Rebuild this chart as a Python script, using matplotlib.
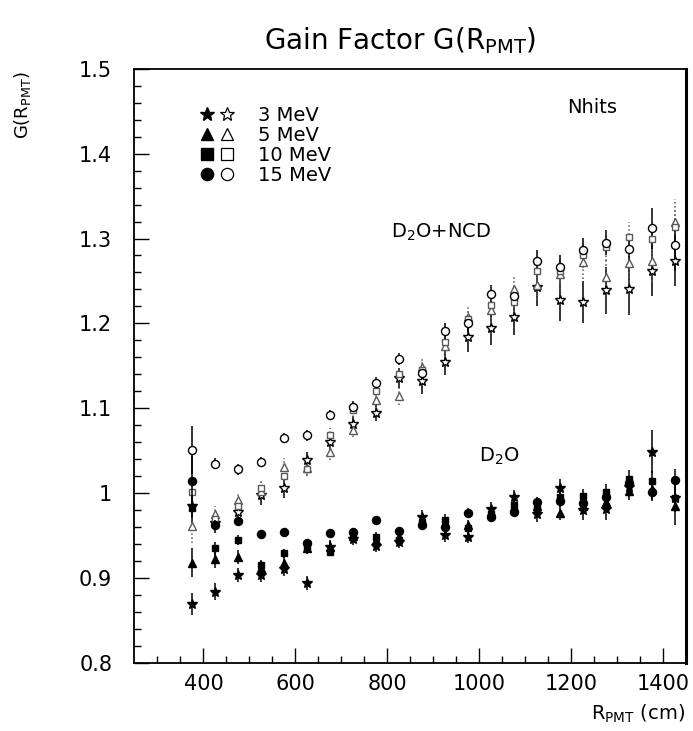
import numpy as np
from matplotlib import pyplot as plt
from matplotlib.lines import Line2D
from matplotlib.legend_handler import HandlerTuple

# PMT radius bins (cm)
r_pmt = [375, 425, 475, 525, 575, 625, 675, 725, 775, 825, 875,
         925, 975, 1025, 1075, 1125, 1175, 1225, 1275, 1325, 1375, 1425]

# D2O phase (filled markers)
d2o_3mev = [0.869, 0.884, 0.904, 0.904, 0.911, 0.894, 0.937, 0.946, 0.938, 0.942, 0.972,
            0.951, 0.949, 0.981, 0.995, 0.976, 1.006, 0.980, 0.981, 1.007, 1.049, 0.994]
d2o_3mev_err = [0.013, 0.010, 0.008, 0.008, 0.008, 0.008, 0.008, 0.007, 0.007, 0.007, 0.008,
                0.008, 0.008, 0.009, 0.009, 0.010, 0.011, 0.011, 0.012, 0.012, 0.025, 0.016]
d2o_5mev = [0.918, 0.922, 0.925, 0.912, 0.918, 0.935, 0.937, 0.950, 0.945, 0.948, 0.966,
            0.965, 0.962, 0.978, 0.984, 0.985, 0.977, 0.985, 0.990, 1.003, 1.005, 0.985]
d2o_5mev_err = [0.017, 0.010, 0.008, 0.008, 0.008, 0.007, 0.007, 0.006, 0.006, 0.006, 0.007,
                0.007, 0.007, 0.008, 0.008, 0.009, 0.009, 0.010, 0.010, 0.011, 0.013, 0.022]
d2o_10mev = [0.983, 0.935, 0.945, 0.915, 0.929, 0.937, 0.931, 0.948, 0.949, 0.945, 0.966,
             0.969, 0.959, 0.976, 0.986, 0.982, 0.996, 0.997, 1.002, 1.017, 1.014, 0.994]
d2o_10mev_err = [0.012, 0.008, 0.006, 0.006, 0.005, 0.005, 0.005, 0.005, 0.005, 0.005, 0.006,
                 0.006, 0.006, 0.006, 0.007, 0.007, 0.008, 0.008, 0.009, 0.010, 0.012, 0.014]
d2o_15mev = [1.014, 0.963, 0.967, 0.952, 0.954, 0.941, 0.953, 0.954, 0.968, 0.956, 0.962,
             0.960, 0.977, 0.972, 0.978, 0.990, 0.991, 0.988, 0.996, 1.012, 1.001, 1.016]
d2o_15mev_err = [0.030, 0.006, 0.005, 0.004, 0.004, 0.004, 0.004, 0.004, 0.004, 0.004, 0.005,
                 0.005, 0.005, 0.005, 0.006, 0.006, 0.007, 0.007, 0.008, 0.008, 0.010, 0.012]

# D2O+NCD phase (open markers)
ncd_3mev = [0.985, 0.965, 0.978, 0.998, 1.006, 1.039, 1.060, 1.081, 1.095, 1.136, 1.132,
            1.155, 1.184, 1.195, 1.208, 1.243, 1.228, 1.225, 1.239, 1.240, 1.262, 1.274]
ncd_3mev_err = [0.020, 0.012, 0.012, 0.012, 0.012, 0.010, 0.010, 0.010, 0.010, 0.012, 0.015,
                0.016, 0.018, 0.020, 0.022, 0.022, 0.025, 0.025, 0.028, 0.030, 0.030, 0.030]
ncd_5mev = [0.961, 0.975, 0.992, 1.003, 1.031, 1.030, 1.048, 1.075, 1.110, 1.114, 1.149,
            1.173, 1.208, 1.216, 1.240, 1.245, 1.258, 1.272, 1.255, 1.271, 1.273, 1.320]
ncd_5mev_err = [0.020, 0.010, 0.010, 0.010, 0.010, 0.009, 0.009, 0.009, 0.010, 0.010, 0.012,
                0.013, 0.014, 0.015, 0.016, 0.017, 0.018, 0.020, 0.020, 0.022, 0.024, 0.026]
ncd_10mev = [1.001, 0.970, 0.985, 1.006, 1.020, 1.028, 1.069, 1.098, 1.120, 1.140, 1.145,
             1.178, 1.205, 1.222, 1.225, 1.262, 1.262, 1.280, 1.290, 1.302, 1.299, 1.314]
ncd_10mev_err = [0.012, 0.008, 0.008, 0.008, 0.008, 0.008, 0.008, 0.008, 0.008, 0.009, 0.010,
                 0.010, 0.011, 0.012, 0.012, 0.013, 0.014, 0.015, 0.016, 0.017, 0.018, 0.020]
ncd_15mev = [1.051, 1.035, 1.028, 1.037, 1.065, 1.068, 1.092, 1.102, 1.130, 1.158, 1.142,
             1.191, 1.200, 1.235, 1.232, 1.274, 1.267, 1.287, 1.295, 1.288, 1.312, 1.292]
ncd_15mev_err = [0.028, 0.007, 0.006, 0.006, 0.006, 0.006, 0.006, 0.007, 0.007, 0.007, 0.008,
                 0.009, 0.010, 0.010, 0.011, 0.012, 0.013, 0.014, 0.015, 0.016, 0.024, 0.030]

energy_labels = ["3 MeV", "5 MeV", "10 MeV", "15 MeV"]
markers = ["*", "^", "s", "o"]
sizes = [7.5, 5.5, 5, 5.8]

plt.rcParams['font.family'] = 'DejaVu Sans'
fig = plt.figure(figsize=(6.93, 7.31), dpi=100)
ax = fig.add_axes([0.194, 0.093, 0.796, 0.813])

d2o_sets = [(d2o_3mev, d2o_3mev_err), (d2o_5mev, d2o_5mev_err),
            (d2o_10mev, d2o_10mev_err), (d2o_15mev, d2o_15mev_err)]
ncd_sets = [(ncd_3mev, ncd_3mev_err), (ncd_5mev, ncd_5mev_err),
            (ncd_10mev, ncd_10mev_err), (ncd_15mev, ncd_15mev_err)]

x = np.array(r_pmt)
for i in range(4):
    y, e = ncd_sets[i]
    ec = '0.35' if i in (1, 2) else 'black'
    eb = ax.errorbar(x, y, yerr=e, fmt=markers[i], ms=sizes[i], mfc='white', mec=ec,
                     mew=1.0, ecolor=ec, elinewidth=1.1, capsize=0, zorder=2)
    if i in (1, 2):
        eb[2][0].set_linestyle(':')
for i in range(4):
    y, e = d2o_sets[i]
    ax.errorbar(x, y, yerr=e, fmt=markers[i], ms=sizes[i], mfc='black', mec='black',
                ecolor='black', elinewidth=1.1, capsize=0, zorder=3)

ax.set_xlim(250, 1450)
ax.set_ylim(0.8, 1.5)
ax.set_xticks([400, 600, 800, 1000, 1200, 1400])
ax.set_xticks(np.arange(300, 1450, 50), minor=True)
ax.set_yticks([0.8, 0.9, 1.0, 1.1, 1.2, 1.3, 1.4, 1.5])
ax.set_yticklabels(["0.8", "0.9", "1", "1.1", "1.2", "1.3", "1.4", "1.5"])
ax.set_yticks(np.arange(0.8, 1.5, 0.02), minor=True)
ax.tick_params(which='both', direction='in', top=False, right=False, width=1.0)
ax.tick_params(which='major', length=11, labelsize=15)
ax.tick_params(which='minor', length=5)
ax.tick_params(axis='y', pad=16)
ax.tick_params(axis='x', pad=8)
for s in ax.spines.values():
    s.set_linewidth(1.3)
ax.spines['right'].set_linewidth(2.2)

# legend: filled (D2O) and open (D2O+NCD) symbol pairs
handles = []
for i in range(4):
    f = Line2D([], [], ls='none', marker=markers[i], ms=sizes[i] + 3, mfc='black', mec='black')
    o = Line2D([], [], ls='none', marker=markers[i], ms=sizes[i] + 3, mfc='white', mec='black', mew=0.9)
    handles.append((f, o))
ax.legend(handles, energy_labels, handler_map={tuple: HandlerTuple(ndivide=None, pad=0.1)},
          loc='upper left', bbox_to_anchor=(0.1, 0.95), frameon=False, fontsize=14,
          handlelength=2.0, handletextpad=1.1, labelspacing=0.05, borderaxespad=0)

ax.text(0.83, 0.934, "Nhits", transform=ax.transAxes, fontsize=14, ha='center', va='center')
ax.text(0.555, 0.724, r"D$_2$O+NCD", transform=ax.transAxes, fontsize=14, ha='center', va='center')
ax.text(0.662, 0.347, r"D$_2$O", transform=ax.transAxes, fontsize=14, ha='center', va='center')

fig.text(0.578, 0.945, r"Gain Factor G(R$_{\rm PMT}$)", fontsize=20, ha='center', va='center')
fig.text(0.032, 0.902, r"G(R$_{\rm PMT}$)", fontsize=13, rotation=90, ha='center', va='top')
fig.text(0.988, 0.008, r"R$_{\rm PMT}$ (cm)", fontsize=14, ha='right', va='bottom')

fig.savefig("out.png", dpi=100)
